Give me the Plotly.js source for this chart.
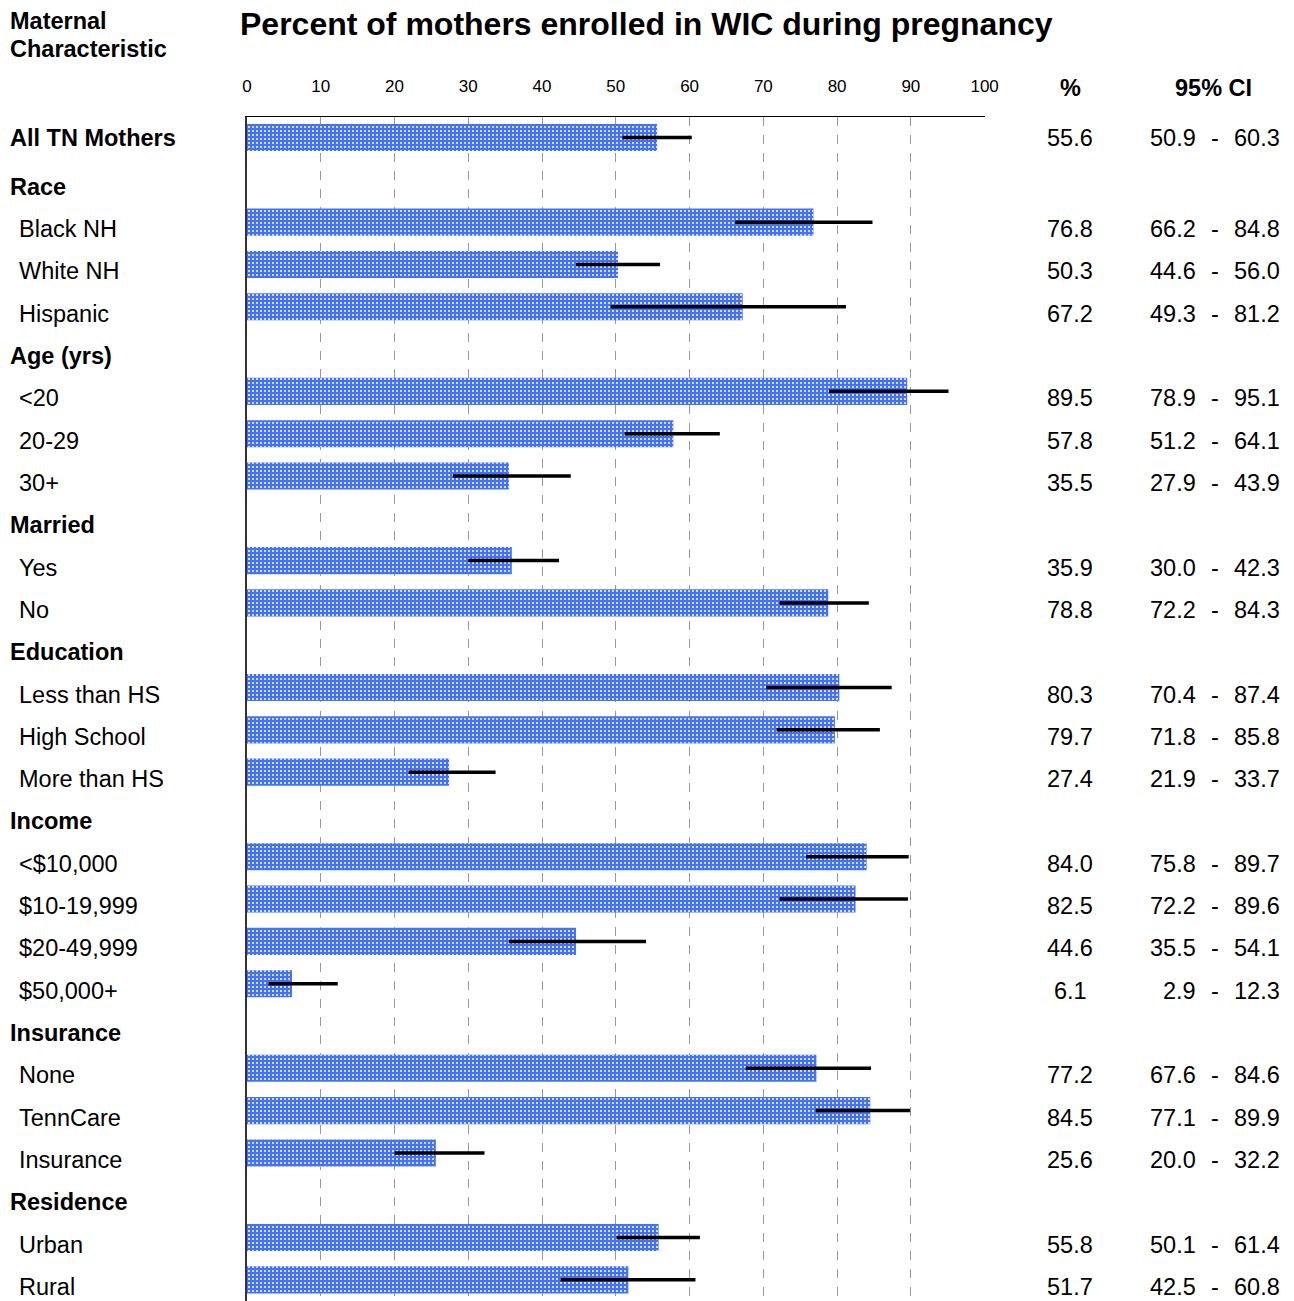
<!DOCTYPE html>
<html>
<head>
<meta charset="utf-8">
<script src="https://cdn.plot.ly/plotly-3.0.1.min.js"></script>
<style>html,body{margin:0;padding:0;background:#fff;}#chart{width:1294px;height:1301px;}</style>
</head>
<body>
<div id="chart"></div>
<script>
// ---- Data ----
const rowLabels = ["All TN Mothers","Race","Black NH","White NH","Hispanic","Age (yrs)","<20","20-29","30+",
  "Married","Yes","No","Education","Less than HS","High School","More than HS","Income","<$10,000",
  "$10-19,999","$20-49,999","$50,000+","Insurance","None","TennCare","Insurance","Residence","Urban","Rural"];
const rowIsHeading = [true,true,false,false,false,true,false,false,false,true,false,false,true,false,false,false,
  true,false,false,false,false,true,false,false,false,true,false,false];
const pct    = [55.6,null,76.8,50.3,67.2,null,89.5,57.8,35.5,null,35.9,78.8,null,80.3,79.7,27.4,null,84.0,82.5,44.6,6.1,null,77.2,84.5,25.6,null,55.8,51.7];
const ciLow  = [50.9,null,66.2,44.6,49.3,null,78.9,51.2,27.9,null,30.0,72.2,null,70.4,71.8,21.9,null,75.8,72.2,35.5,2.9,null,67.6,77.1,20.0,null,50.1,42.5];
const ciHigh = [60.3,null,84.8,56.0,81.2,null,95.1,64.1,43.9,null,42.3,84.3,null,87.4,85.8,33.7,null,89.7,89.6,54.1,12.3,null,84.6,89.9,32.2,null,61.4,60.8];
const xTicks = [0,10,20,30,40,50,60,70,80,90,100];

// ---- Layout geometry ----
const W = 1294, H = 1301;
const L = 247, R = 985, T = 117, B = 1301;
const PW = R - L;
const fx = px => (px - L) / PW;
const FONT = '"Liberation Sans", Arial, sans-serif';
const FS = 23.5;

const idx = [], xs = [], eplus = [], eminus = [];
pct.forEach((v, i) => {
  if (v !== null) {
    idx.push(i); xs.push(v);
    eplus.push(ciHigh[i] - v);
    eminus.push(v - ciLow[i]);
  }
});

const baseBars = {
  type: 'bar', orientation: 'h',
  x: xs, y: idx, width: 0.64,
  marker: {color: '#4472f4', line: {width: 0}},
  hoverinfo: 'skip'
};
const patternBars = {
  type: 'bar', orientation: 'h',
  x: xs, y: idx, width: 0.64,
  marker: {
    color: '#3565f5',
    line: {width: 0},
    pattern: {shape: '.', fgcolor: '#ffffff', size: 4, solidity: 0.2}
  },
  error_x: {type: 'data', symmetric: false, array: eplus, arrayminus: eminus,
    color: '#000', thickness: 3.5, width: 0},
  hoverinfo: 'skip'
};

const ann = [];
const shiftFor = i => (i === 0 ? 0 : -7);
rowLabels.forEach((lab, i) => {
  const bold = rowIsHeading[i];
  ann.push({xref: 'paper', yref: 'y', x: fx(bold ? 8 : 17), y: i, yshift: shiftFor(i),
    xanchor: 'left', yanchor: 'middle', showarrow: false,
    text: bold ? '<b>' + lab.replace(/</g,'&lt;') + '</b>' : lab.replace(/</g,'&lt;'),
    font: {family: FONT, size: FS, color: '#000'}});
  if (pct[i] !== null) {
    ann.push({xref: 'paper', yref: 'y', x: fx(1070), y: i, yshift: shiftFor(i),
      xanchor: 'center', yanchor: 'middle', showarrow: false,
      text: pct[i].toFixed(1), font: {family: FONT, size: FS, color: '#000'}});
    ann.push({xref: 'paper', yref: 'y', x: fx(1198), y: i, yshift: shiftFor(i),
      xanchor: 'right', yanchor: 'middle', showarrow: false,
      text: ciLow[i].toFixed(1), font: {family: FONT, size: FS, color: '#000'}});
    ann.push({xref: 'paper', yref: 'y', x: fx(1215), y: i, yshift: shiftFor(i),
      xanchor: 'center', yanchor: 'middle', showarrow: false,
      text: '-', font: {family: FONT, size: FS, color: '#000'}});
    ann.push({xref: 'paper', yref: 'y', x: fx(1282), y: i, yshift: shiftFor(i),
      xanchor: 'right', yanchor: 'middle', showarrow: false,
      text: ciHigh[i].toFixed(1), font: {family: FONT, size: FS, color: '#000'}});
  }
});
const pyPaper = py => (B - py) / (B - T);
ann.push({xref: 'paper', yref: 'paper', x: fx(1070), y: pyPaper(88), xanchor: 'center', yanchor: 'middle',
  showarrow: false, text: '<b>%</b>', font: {family: FONT, size: FS, color: '#000'}});
ann.push({xref: 'paper', yref: 'paper', x: fx(1213), y: pyPaper(88), xanchor: 'center', yanchor: 'middle',
  showarrow: false, text: '<b>95% CI</b>', font: {family: FONT, size: FS, color: '#000'}});
ann.push({xref: 'paper', yref: 'paper', x: fx(8), y: pyPaper(21), xanchor: 'left', yanchor: 'middle',
  showarrow: false, text: '<b>Maternal</b>', font: {family: FONT, size: FS, color: '#000'}});
ann.push({xref: 'paper', yref: 'paper', x: fx(8), y: pyPaper(49), xanchor: 'left', yanchor: 'middle',
  showarrow: false, text: '<b>Characteristic</b>', font: {family: FONT, size: FS, color: '#000'}});

const layout = {
  width: W, height: H,
  margin: {l: L, r: W - R, t: T, b: H - B, pad: 0},
  paper_bgcolor: '#fff', plot_bgcolor: '#fff',
  showlegend: false, barmode: 'overlay',
  title: {text: '<b>Percent of mothers enrolled in WIC during pregnancy</b>',
    x: 240 / W, xanchor: 'left', xref: 'container',
    y: 1 - 24 / H, yanchor: 'middle', yref: 'container',
    font: {family: FONT, size: 32, color: '#000'}},
  xaxis: {side: 'top', range: [0, 100.05], tickvals: xTicks, ticktext: xTicks.map(String),
    ticks: '', ticklabelstandoff: 17,
    tickfont: {family: FONT, size: 17, color: '#000'},
    showgrid: true, gridcolor: '#999', griddash: 'dash', gridwidth: 1,
    zeroline: false, showline: true, linecolor: '#000', linewidth: 1.5, fixedrange: true},
  yaxis: {range: [27.5, -0.485], showticklabels: false, ticks: '', showgrid: false, zeroline: false,
    showline: true, linecolor: '#333', linewidth: 2, fixedrange: true},
  annotations: ann
};

Plotly.newPlot('chart', [baseBars, patternBars], layout, {staticPlot: true, displayModeBar: false});
</script>
</body>
</html>
